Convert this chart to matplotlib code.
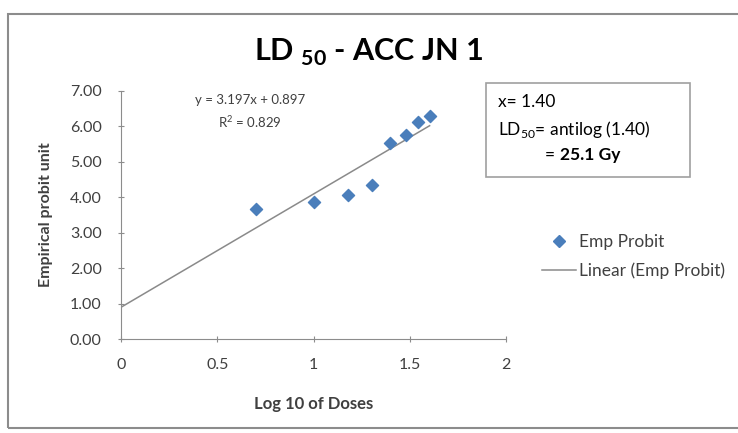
import numpy as np
import matplotlib.pyplot as plt
from matplotlib.patches import Rectangle
from matplotlib.lines import Line2D

plt.rcParams['font.family'] = ['Lato', 'DejaVu Sans']
plt.rcParams['mathtext.fontset'] = 'custom'
plt.rcParams['mathtext.rm'] = 'Lato'
plt.rcParams['mathtext.bf'] = 'Lato:bold'

# データ
log_dose = [0.699, 1.000, 1.176, 1.301, 1.398, 1.477, 1.544, 1.602]
emp_probit = [3.66, 3.87, 4.05, 4.36, 5.52, 5.77, 6.13, 6.28]
slope, intercept = 3.197, 0.897
xticks = [0, 0.5, 1, 1.5, 2]
yticks = [0, 1, 2, 3, 4, 5, 6, 7]

grey = '#8c8c8c'
blue = '#4a7ebb'
txt = '#404040'

fig = plt.figure(figsize=(7.38, 4.33), dpi=100)
fig.patches.append(Rectangle((0.011, 0.012), 1.2, 0.956, transform=fig.transFigure,
                             fill=False, edgecolor=grey, linewidth=1.5))

ax = fig.add_axes([0.164, 0.217, 0.522, 0.573])
x_fit = np.array([0, max(log_dose)])
ax.plot(x_fit, slope * x_fit + intercept, color='#8a8a8a', linewidth=1.1, zorder=2)
ax.scatter(log_dose, emp_probit, marker='D', s=38, color=blue, zorder=3)

ax.set_xlim(0, 2)
ax.set_ylim(0, 7)
ax.set_xticks(xticks)
ax.set_xticklabels(['0', '0.5', '1', '1.5', '2'])
ax.set_yticks(yticks)
ax.set_yticklabels(['%.2f' % v for v in yticks])
for s in ['top', 'right']:
    ax.spines[s].set_visible(False)
for s in ['left', 'bottom']:
    ax.spines[s].set_color(grey)
ax.tick_params(colors=grey, labelcolor=txt, labelsize=11.5, length=4, direction='inout')
ax.tick_params(axis='x', pad=12)
ax.tick_params(axis='y', pad=12)
ax.set_xlabel('Log 10 of Doses', fontsize=12, fontweight='bold', color=txt, labelpad=17)
ax.set_ylabel('Empirical probit unit', fontsize=11.5, fontweight='bold', color=txt, labelpad=12)

fig.text(0.50, 0.88, r'LD $_{\mathbf{50}}$ - ACC JN 1', ha='center', va='center',
         fontsize=22, fontweight='bold', color='black')

ax.text(0.335, 0.964, 'y = 3.197x + 0.897', transform=ax.transAxes, ha='center',
        va='center', fontsize=9.5, color=txt)
ax.text(0.335, 0.875, 'R$^2$ = 0.829', transform=ax.transAxes, ha='center',
        va='center', fontsize=9.5, color=txt)

fig.patches.append(Rectangle((486 / 738, 1 - 177 / 433), 204 / 738, 94 / 433,
                             transform=fig.transFigure, fill=False,
                             edgecolor='#a0a0a0', linewidth=1.2))
fig.text(498 / 738, 1 - 102 / 433, 'x= 1.40', fontsize=12.5, color='black', va='center')
fig.text(498 / 738, 1 - 129 / 433, r'LD$_{50}$= antilog (1.40)', fontsize=12.5,
         color='black', va='center')
fig.text(545 / 738, 1 - 155 / 433, '= ', fontsize=12.5, color='black', va='center')
fig.text(560 / 738, 1 - 155 / 433, '25.1 Gy', fontsize=12.5, fontweight='bold',
         color='black', va='center')

handles = [Line2D([], [], marker='D', color=blue, linestyle='none', markersize=6),
           Line2D([], [], color='#8a8a8a', linewidth=1.1)]
fig.legend(handles, ['Emp Probit', 'Linear (Emp Probit)'], loc='upper left',
           bbox_to_anchor=(526 / 738, 1 - 218 / 433), frameon=False, fontsize=12.5,
           labelcolor=txt, handlelength=2.0, labelspacing=0.75, handletextpad=0.15)

fig.savefig('out.png', dpi=100)
